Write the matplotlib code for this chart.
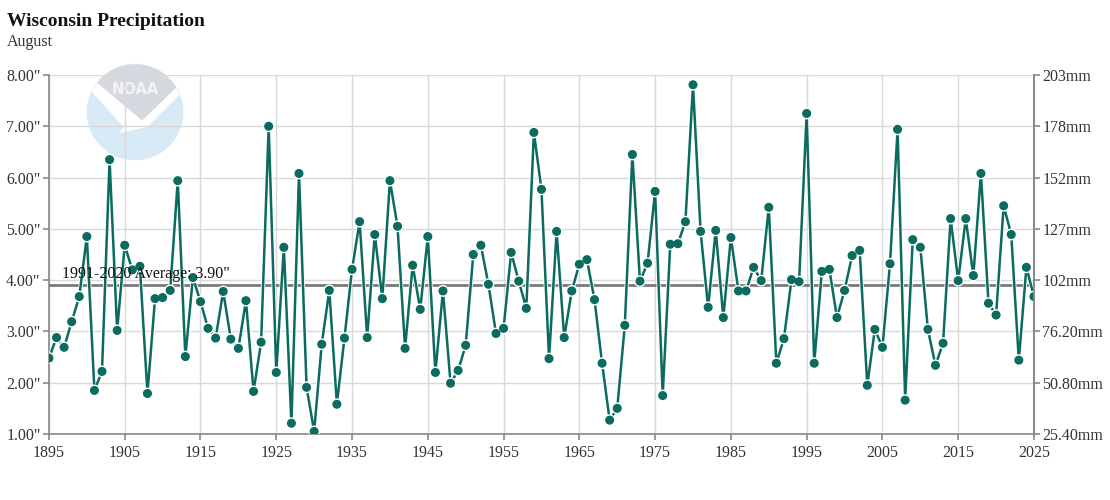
import matplotlib.pyplot as plt
import matplotlib.patheffects as pe
from matplotlib.patches import Circle, Polygon

# August precipitation, Wisconsin (inches), 1895-2025
years = list(range(1895, 2026))
precip = [
    2.48, 2.88, 2.69, 3.19, 3.68, 4.85, 1.85, 2.22, 6.35, 3.02,  # 1895-1904
    4.68, 4.20, 4.27, 1.79, 3.64, 3.66, 3.80, 5.94, 2.51, 4.05,  # 1905-1914
    3.58, 3.06, 2.87, 3.78, 2.85, 2.67, 3.60, 1.83, 2.79, 7.00,  # 1915-1924
    2.20, 4.64, 1.21, 6.08, 1.91, 1.05, 2.75, 3.80, 1.58, 2.87,  # 1925-1934
    4.21, 5.14, 2.88, 4.89, 3.64, 5.94, 5.05, 2.67, 4.29, 3.43,  # 1935-1944
    4.85, 2.20, 3.79, 1.99, 2.24, 2.73, 4.50, 4.68, 3.92, 2.96,  # 1945-1954
    3.06, 4.54, 3.98, 3.45, 6.88, 5.77, 2.47, 4.95, 2.88, 3.79,  # 1955-1964
    4.31, 4.40, 3.62, 2.38, 1.27, 1.50, 3.12, 6.45, 3.98, 4.33,  # 1965-1974
    5.73, 1.75, 4.70, 4.71, 5.14, 7.81, 4.95, 3.47, 4.97, 3.27,  # 1975-1984
    4.83, 3.79, 3.79, 4.25, 3.99, 5.42, 2.38, 2.86, 4.01, 3.97,  # 1985-1994
    7.25, 2.38, 4.17, 4.21, 3.27, 3.80, 4.48, 4.58, 1.95, 3.04,  # 1995-2004
    2.69, 4.32, 6.94, 1.66, 4.79, 4.64, 3.04, 2.34, 2.77, 5.20,  # 2005-2014
    3.99, 5.20, 4.09, 6.08, 3.55, 3.32, 5.45, 4.89, 2.44, 4.25,  # 2015-2024
    3.68,                                                        # 2025
]
average = 3.90

inch_ticks = [1, 2, 3, 4, 5, 6, 7, 8]
inch_labels = ['1.00"', '2.00"', '3.00"', '4.00"', '5.00"', '6.00"', '7.00"', '8.00"']
mm_labels = ['25.40mm', '50.80mm', '76.20mm', '102mm', '127mm', '152mm', '178mm', '203mm']
year_ticks = list(range(1895, 2026, 10))

plt.rcParams['font.family'] = ['Liberation Serif', 'DejaVu Serif']

line_color = '#0a6b5e'
axis_color = '#888888'
grid_color = '#d9d9d9'

fig = plt.figure(figsize=(11.1, 5), dpi=100)

# faded NOAA logo behind the chart
logo = fig.add_axes([0.0766, 0.676, 0.0901, 0.2], zorder=0)
logo.set_xlim(-1.05, 1.05)
logo.set_ylim(-1.05, 1.05)
logo.set_aspect('equal')
logo.axis('off')
disc = Circle((0, 0), 1.0, color='#d8eaf6')
logo.add_patch(disc)
top = Polygon([(-1.1, 0.85), (0.15, -0.2), (1.1, 0.72), (1.1, 1.1), (-1.1, 1.1)],
              color='#d5d9df')
logo.add_patch(top)
top.set_clip_path(disc)
wing = Polygon([(-1.1, 0.85), (0.15, -0.2), (1.1, 0.72), (1.1, 0.55), (0.25, -0.3),
                (-0.3, -0.42), (-0.22, -0.32), (-1.1, 0.66)], color='white')
logo.add_patch(wing)
wing.set_clip_path(disc)
logo.text(0, 0.47, 'NOAA', color='#f4f4f4', ha='center', va='center',
          fontsize=10.5, fontweight='bold', family='DejaVu Sans')

ax = fig.add_axes([0.0441, 0.132, 0.8874, 0.718], zorder=1)
ax.set_facecolor('none')

ax.plot(years, precip, color=line_color, lw=1.8, marker='o', markersize=5.5,
        markeredgecolor=line_color, zorder=4,
        path_effects=[pe.Stroke(linewidth=3.0, foreground='white'), pe.Normal()])
ax.axhline(average, color='#7a7a7a', lw=2, zorder=3)
ax.text(1896.7, average + 0.06, f'1991-2020 Average: {average:.2f}"',
        fontsize=11.5, color='#111111', va='bottom', ha='left', zorder=5)

ax.set_xlim(1895, 2025)
ax.set_ylim(1, 8)
ax.set_xticks(year_ticks)
ax.set_yticks(inch_ticks)
ax.set_yticklabels(inch_labels)
ax.grid(True, color=grid_color, lw=1, zorder=0)
ax.set_axisbelow(True)

ax.spines['top'].set_visible(False)
for side in ['left', 'bottom', 'right']:
    ax.spines[side].set_color(axis_color)
    ax.spines[side].set_linewidth(1.2)
ax.tick_params(axis='both', colors=axis_color, labelcolor='#333333',
               labelsize=11.5, length=4.5, width=1.2)
ax.tick_params(axis='y', pad=1.5)

ax2 = ax.twinx()
ax2.set_ylim(1, 8)
ax2.set_yticks(inch_ticks)
ax2.set_yticklabels(mm_labels)
ax2.spines['top'].set_visible(False)
ax2.spines['right'].set_color(axis_color)
ax2.spines['right'].set_linewidth(1.2)
ax2.spines['left'].set_visible(False)
ax2.spines['bottom'].set_visible(False)
ax2.tick_params(axis='y', colors=axis_color, labelcolor='#333333',
                labelsize=11.5, length=4.5, width=1.2, pad=1.5)

fig.text(0.006, 0.958, 'Wisconsin Precipitation', fontsize=14, fontweight='bold',
         color='#111111', va='center', ha='left')
fig.text(0.006, 0.915, 'August', fontsize=11.5, color='#333333', va='center', ha='left')

fig.savefig('out.png', dpi=100)
